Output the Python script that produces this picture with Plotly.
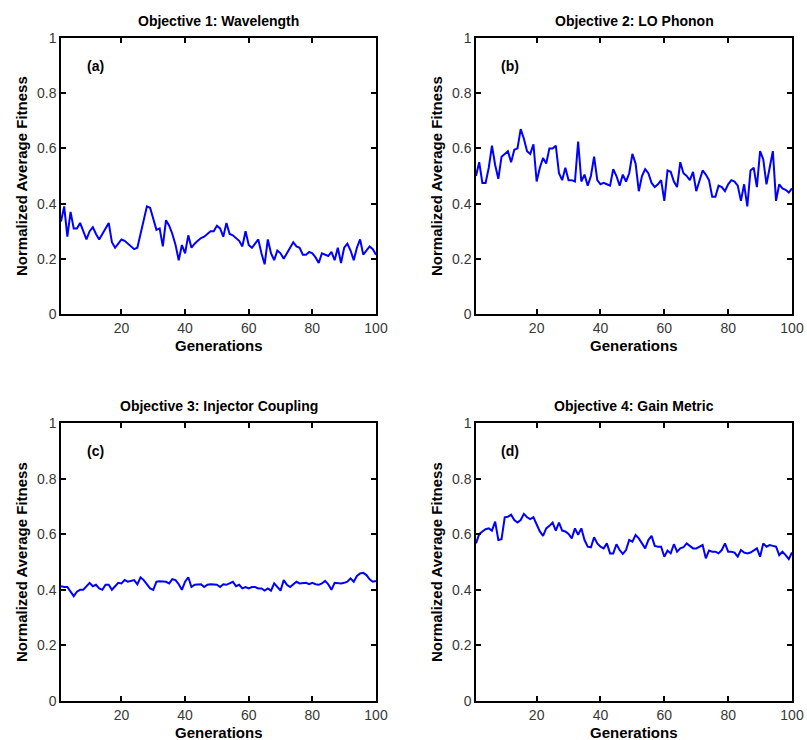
import plotly.graph_objects as go

generations = list(range(1, 101))

wavelength = [0.335, 0.39, 0.28, 0.37, 0.31, 0.31, 0.33, 0.30, 0.27, 0.30,
              0.315, 0.29, 0.27, 0.29, 0.31, 0.33, 0.26, 0.24, 0.255, 0.27,
              0.265, 0.255, 0.245, 0.235, 0.24, 0.29, 0.34, 0.39, 0.385, 0.34,
              0.305, 0.31, 0.245, 0.34, 0.32, 0.29, 0.25, 0.195, 0.25, 0.22,
              0.285, 0.24, 0.255, 0.265, 0.275, 0.28, 0.29, 0.30, 0.30, 0.32,
              0.31, 0.28, 0.33, 0.29, 0.285, 0.275, 0.265, 0.245, 0.30, 0.25,
              0.24, 0.255, 0.27, 0.22, 0.18, 0.27, 0.22, 0.195, 0.23, 0.22,
              0.20, 0.22, 0.24, 0.26, 0.245, 0.24, 0.215, 0.215, 0.225, 0.22,
              0.205, 0.185, 0.22, 0.215, 0.21, 0.225, 0.195, 0.24, 0.185, 0.24,
              0.255, 0.23, 0.195, 0.24, 0.27, 0.215, 0.23, 0.245, 0.235, 0.215]

lo_phonon = [0.50, 0.55, 0.475, 0.475, 0.53, 0.61, 0.54, 0.49, 0.57, 0.58,
             0.59, 0.55, 0.595, 0.60, 0.67, 0.635, 0.59, 0.58, 0.615, 0.48,
             0.53, 0.565, 0.545, 0.60, 0.60, 0.61, 0.51, 0.485, 0.53, 0.485,
             0.485, 0.48, 0.625, 0.48, 0.505, 0.465, 0.50, 0.57, 0.485, 0.47,
             0.475, 0.47, 0.465, 0.525, 0.50, 0.465, 0.505, 0.48, 0.51, 0.58,
             0.545, 0.445, 0.50, 0.525, 0.51, 0.475, 0.46, 0.47, 0.485, 0.41,
             0.52, 0.515, 0.48, 0.46, 0.55, 0.51, 0.50, 0.485, 0.515, 0.445,
             0.48, 0.52, 0.505, 0.485, 0.425, 0.425, 0.465, 0.46, 0.445, 0.47,
             0.485, 0.48, 0.465, 0.41, 0.47, 0.39, 0.52, 0.53, 0.46, 0.59,
             0.56, 0.47, 0.53, 0.59, 0.41, 0.47, 0.455, 0.45, 0.44, 0.455]

injector = [0.413, 0.41, 0.41, 0.393, 0.377, 0.393, 0.40, 0.40, 0.413, 0.425,
            0.413, 0.418, 0.405, 0.40, 0.418, 0.418, 0.40, 0.413, 0.425, 0.423,
            0.435, 0.429, 0.431, 0.435, 0.42, 0.445, 0.435, 0.42, 0.405, 0.40,
            0.429, 0.431, 0.429, 0.429, 0.423, 0.438, 0.435, 0.42, 0.40, 0.429,
            0.445, 0.41, 0.418, 0.418, 0.42, 0.41, 0.418, 0.42, 0.418, 0.418,
            0.41, 0.42, 0.418, 0.423, 0.429, 0.413, 0.418, 0.405, 0.41, 0.405,
            0.41, 0.41, 0.405, 0.405, 0.397, 0.405, 0.397, 0.423, 0.41, 0.397,
            0.435, 0.418, 0.41, 0.42, 0.429, 0.423, 0.423, 0.425, 0.42, 0.425,
            0.42, 0.418, 0.423, 0.432, 0.42, 0.40, 0.425, 0.423, 0.423, 0.425,
            0.429, 0.441, 0.429, 0.45, 0.459, 0.461, 0.453, 0.438, 0.429, 0.432]

gain_metric = [0.567, 0.60, 0.61, 0.618, 0.621, 0.613, 0.645, 0.579, 0.582, 0.661,
               0.663, 0.67, 0.651, 0.642, 0.651, 0.673, 0.661, 0.654, 0.661, 0.633,
               0.61, 0.594, 0.621, 0.63, 0.642, 0.613, 0.642, 0.613, 0.61, 0.601,
               0.585, 0.621, 0.598, 0.621, 0.579, 0.555, 0.553, 0.589, 0.567, 0.555,
               0.549, 0.567, 0.531, 0.531, 0.564, 0.543, 0.529, 0.543, 0.579, 0.573,
               0.597, 0.585, 0.567, 0.549, 0.579, 0.594, 0.558, 0.555, 0.555, 0.519,
               0.541, 0.531, 0.564, 0.537, 0.549, 0.553, 0.567, 0.558, 0.549, 0.549,
               0.555, 0.561, 0.513, 0.541, 0.537, 0.537, 0.531, 0.543, 0.567, 0.537,
               0.537, 0.534, 0.519, 0.543, 0.534, 0.531, 0.534, 0.543, 0.549, 0.519,
               0.567, 0.555, 0.561, 0.558, 0.555, 0.525, 0.537, 0.525, 0.510, 0.534]

titles = ["Objective 1: Wavelength", "Objective 2: LO Phonon",
          "Objective 3: Injector Coupling", "Objective 4: Gain Metric"]
panel_labels = ["(a)", "(b)", "(c)", "(d)"]
series = [wavelength, lo_phonon, injector, gain_metric]

y_ticks = [0, 0.2, 0.4, 0.6, 0.8, 1]
y_ticktext = ["0", "0.2", "0.4", "0.6", "0.8", "1"]
x_ticks = [20, 40, 60, 80, 100]

W, H = 807, 740
# pixel boxes (left, right, top, bottom)
boxes = [(61, 376, 38, 314), (476, 792, 38, 314),
         (61, 376, 423, 701), (476, 792, 423, 701)]

FONT = "Liberation Sans, Arial, sans-serif"
fig = go.Figure()
layout = dict(width=W, height=H, margin=dict(l=0, r=0, t=0, b=0, autoexpand=False),
              paper_bgcolor="white", plot_bgcolor="white", showlegend=False)
annotations = []

for i, (ys, (l, r, t, b)) in enumerate(zip(series, boxes)):
    k = i + 1
    xa = "x" if k == 1 else f"x{k}"
    ya = "y" if k == 1 else f"y{k}"
    fig.add_trace(go.Scatter(x=generations, y=ys, mode="lines",
                             line=dict(color="#0000FF", width=2),
                             xaxis=xa, yaxis=ya, hoverinfo="skip"))
    xd = [l / W, r / W]
    yd = [1 - b / H, 1 - t / H]
    common = dict(showline=True, linecolor="black", linewidth=1.5, mirror="ticks",
                  ticks="inside", ticklen=5, tickcolor="black", tickwidth=1.5,
                  showgrid=False, zeroline=False, automargin=False,
                  tickfont=dict(family=FONT, size=14, color="#383838"))
    layout["xaxis" if k == 1 else f"xaxis{k}"] = dict(
        domain=xd, range=[1, 100], tickvals=x_ticks, anchor=ya, **common)
    layout["yaxis" if k == 1 else f"yaxis{k}"] = dict(
        domain=yd, range=[0, 1], tickvals=y_ticks, ticktext=y_ticktext,
        anchor=xa, **common)
    cx = (l + r) / 2 / W
    annotations.append(dict(text=f"<b>{titles[i]}</b>", x=cx, y=1 - (t - 17) / H,
                            xref="paper", yref="paper", showarrow=False,
                            xanchor="center", yanchor="middle",
                            font=dict(family=FONT, size=14, color="black")))
    annotations.append(dict(text="<b>Generations</b>", x=cx, y=1 - (b + 31) / H,
                            xref="paper", yref="paper", showarrow=False,
                            xanchor="center", yanchor="middle",
                            font=dict(family=FONT, size=15, color="black")))
    annotations.append(dict(text="<b>Normalized Average Fitness</b>",
                            x=(l - 40) / W, y=1 - (t + b) / 2 / H,
                            xref="paper", yref="paper", showarrow=False,
                            textangle=-90, xanchor="center", yanchor="middle",
                            font=dict(family=FONT, size=15, color="black")))
    annotations.append(dict(text=f"<b>{panel_labels[i]}</b>", x=11.7, y=0.9,
                            xref=xa, yref=ya, showarrow=False,
                            xanchor="center", yanchor="middle",
                            font=dict(family=FONT, size=14, color="black")))

layout["annotations"] = annotations
fig.update_layout(**layout)
fig.write_html("out.html", config={"displayModeBar": False},
               post_script="document.body.style.margin='0';document.body.style.overflow='hidden';")
